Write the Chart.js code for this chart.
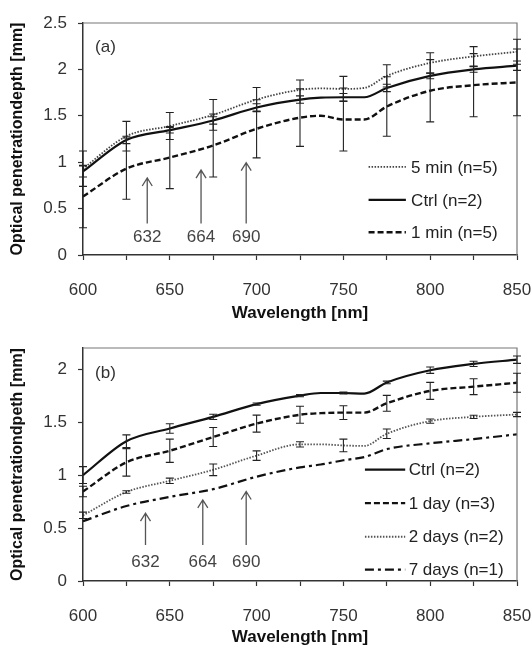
<!DOCTYPE html>
<html>
<head>
<meta charset="utf-8">
<script src="https://cdn.jsdelivr.net/npm/chart.js@4.4.1/dist/chart.umd.min.js"></script>
<style>
  html, body { margin: 0; padding: 0; background: #fff; }
  canvas { display: block; }
</style>
</head>
<body>
<canvas id="chartA" width="532" height="324"></canvas>
<canvas id="chartB" width="532" height="324"></canvas>
<script>
// wavelengths (nm) of the read points; error bars only every 25 nm
const wavelengths = [600, 625, 650, 675, 700, 725, 737, 750, 762, 775, 800, 825, 850];
const xTicks = [600, 650, 700, 750, 800, 850];

// panel (a)
const min5A  = [0.93, 1.28, 1.39, 1.51, 1.675, 1.78, 1.795, 1.79, 1.80, 1.93, 2.07, 2.14, 2.19];
const ctrlA  = [0.90, 1.24, 1.345, 1.45, 1.59, 1.675, 1.695, 1.70, 1.70, 1.80, 1.93, 2.00, 2.04];
const min1A  = [0.63, 0.93, 1.05, 1.18, 1.36, 1.48, 1.50, 1.46, 1.46, 1.60, 1.77, 1.83, 1.86];
const min5ErrA = [0.19, 0.16, 0.145, 0.165, 0.13, 0.105, null, 0.135, null, 0.12, 0.11, 0.105, 0.135];
const ctrlErrA = [0.06, 0.04, 0.03, 0.04, 0.04, 0.04, null, 0.04, null, 0.04, 0.03, 0.03, 0.05];
const min1ErrA = [0.336, 0.33, 0.335, 0.34, 0.313, 0.31, null, 0.34, null, 0.32, 0.335, 0.34, 0.36];

// panel (b)
const ctrlB = [1.00, 1.32, 1.44, 1.55, 1.67, 1.75, 1.775, 1.775, 1.77, 1.875, 1.99, 2.05, 2.09];
const day1B = [0.845, 1.12, 1.23, 1.36, 1.486, 1.57, 1.585, 1.59, 1.59, 1.678, 1.795, 1.835, 1.872];
const day2B = [0.62, 0.84, 0.946, 1.05, 1.184, 1.29, 1.29, 1.28, 1.275, 1.39, 1.51, 1.55, 1.572];
const day7B = [0.565, 0.708, 0.794, 0.867, 0.985, 1.073, 1.10, 1.14, 1.17, 1.245, 1.30, 1.34, 1.385];
const ctrlErrB = [0.08, 0.06, 0.045, 0.025, 0.01, 0.01, null, 0.01, null, 0.012, 0.03, 0.025, 0.035];
const day1ErrB = [0.05, 0.13, 0.11, 0.09, 0.08, 0.08, null, 0.065, null, 0.075, 0.08, 0.075, 0.09];
const day2ErrB = [0.03, 0.012, 0.025, 0.055, 0.045, 0.025, null, 0.06, null, 0.045, 0.02, 0.015, 0.02];

// marked wavelengths (arrows)
const arrowLabels = ['632', '664', '690'];
const arrowXA = [637, 668, 694];
const arrowTipA = [0.83, 0.915, 0.995];
const arrowXB = [636, 669, 694];
const arrowTipB = [0.64, 0.766, 0.845];

const FONT = "'Liberation Sans', Arial, sans-serif";

const toXY = (vals) => wavelengths.map((w, i) => ({ x: w, y: vals[i] }));

function series(label, vals, errs, style) {
  return Object.assign({
    label: label,
    data: toXY(vals),
    errors: errs,
    borderColor: '#111',
    borderWidth: 2,
    pointRadius: 0,
    fill: false,
    cubicInterpolationMode: 'monotone'
  }, style);
}

const solid = { borderDash: [], borderWidth: 2.2, borderColor: '#111' };
const dashed = { borderDash: [6, 3], borderWidth: 2.4, borderColor: '#111' };
const dotted = { borderDash: [1.5, 1.5], borderWidth: 1.8, borderColor: '#444' };
const dashDot = { borderDash: [9, 4, 3, 4], borderWidth: 2.2, borderColor: '#111' };

// error bars, arrows, frame, in-plot legend and panel letter
function extras(cfg) {
  return {
    id: 'extras',
    afterDatasetsDraw(chart) {
      const { ctx, chartArea: a, scales: { x, y } } = chart;
      ctx.save();
      // frame
      ctx.strokeStyle = '#777';
      ctx.lineWidth = 1.2;
      ctx.beginPath();
      ctx.moveTo(a.left, a.top);
      ctx.lineTo(a.right, a.top);
      ctx.lineTo(a.right, a.bottom);
      ctx.stroke();

      // error bars
      ctx.strokeStyle = '#222';
      ctx.lineWidth = 1.1;
      ctx.setLineDash([]);
      chart.data.datasets.forEach(ds => {
        if (!ds.errors) return;
        ds.data.forEach((p, i) => {
          const e = ds.errors[i];
          if (e == null) return;
          const px = x.getPixelForValue(p.x);
          const y1 = y.getPixelForValue(p.y + e);
          const y2 = y.getPixelForValue(p.y - e);
          ctx.beginPath();
          ctx.moveTo(px, y1); ctx.lineTo(px, y2);
          ctx.moveTo(px - 4, y1); ctx.lineTo(px + 4, y1);
          ctx.moveTo(px - 4, y2); ctx.lineTo(px + 4, y2);
          ctx.stroke();
        });
      });

      // arrows
      ctx.strokeStyle = '#555';
      ctx.fillStyle = '#444';
      ctx.lineWidth = 1.3;
      ctx.font = '17px ' + FONT;
      ctx.textAlign = 'center';
      ctx.textBaseline = 'middle';
      cfg.arrowX.forEach((ax, i) => {
        const px = x.getPixelForValue(ax);
        const yb = y.getPixelForValue(cfg.arrowBase);
        const yt = y.getPixelForValue(cfg.arrowTip[i]);
        ctx.beginPath();
        ctx.moveTo(px, yb); ctx.lineTo(px, yt);
        ctx.moveTo(px - 5, yt + 8); ctx.lineTo(px, yt); ctx.lineTo(px + 5, yt + 8);
        ctx.stroke();
        ctx.fillText(arrowLabels[i], px, y.getPixelForValue(cfg.arrowTextY));
      });

      // panel letter
      ctx.fillStyle = '#333';
      ctx.textAlign = 'left';
      ctx.fillText(cfg.letter, x.getPixelForValue(cfg.letterPos[0]) - 10, y.getPixelForValue(cfg.letterPos[1]));

      // legend
      cfg.legendOrder.forEach((di, k) => {
        const ds = chart.data.datasets[di];
        const ly = y.getPixelForValue(cfg.legendY[k]);
        ctx.strokeStyle = ds.borderColor;
        ctx.lineWidth = ds.borderWidth;
        ctx.setLineDash(ds.borderDash);
        ctx.beginPath();
        ctx.moveTo(x.getPixelForValue(cfg.legendLine[0]), ly);
        ctx.lineTo(x.getPixelForValue(cfg.legendLine[1]), ly);
        ctx.stroke();
        ctx.setLineDash([]);
        ctx.fillStyle = '#222';
        ctx.fillText(ds.label, x.getPixelForValue(cfg.legendText), ly + 1);
      });
      ctx.restore();
    }
  };
}

function makeChart(id, datasets, cfg) {
  return new Chart(document.getElementById(id), {
    type: 'line',
    data: { datasets: datasets },
    options: {
      responsive: false,
      animation: false,
      layout: { padding: { top: cfg.top, right: 15, left: 0, bottom: 0 } },
      plugins: { legend: { display: false }, tooltip: { enabled: false } },
      scales: {
        x: {
          type: 'linear',
          min: 600,
          max: 850,
          afterFit: (s) => {
            s.height = cfg.xHeight;
            // tick padding should not eat horizontal room
            s.paddingRight = 15;
            s.paddingLeft = 0;
          },
          ticks: {
            stepSize: 25,
            autoSkip: false,
            maxRotation: 0,
            padding: 20,
            color: '#333',
            font: { family: FONT, size: 17 },
            callback: (v) => (xTicks.includes(v) ? String(v) : '')
          },
          grid: { drawOnChartArea: false, tickLength: 5, color: '#333', tickWidth: 1.2 },
          border: { color: '#333', width: 1.5 },
          title: {
            display: true,
            text: 'Wavelength [nm]',
            color: '#111',
            font: { family: FONT, size: 17, weight: 'bold' },
            padding: { top: 0, bottom: 0 }
          }
        },
        y: {
          min: 0,
          max: cfg.yMax,
          afterFit: (s) => { s.width = 83; },
          afterBuildTicks: (s) => {
            s.ticks = s.ticks.filter(t => Math.abs(t.value * 2 - Math.round(t.value * 2)) < 1e-9);
          },
          ticks: {
            stepSize: 0.5,
            padding: 11,
            color: '#333',
            font: { family: FONT, size: 17 },
            callback: (v) => String(Number(v.toFixed(1)))
          },
          grid: { drawOnChartArea: false, tickLength: 5, color: '#333', tickWidth: 1.2 },
          border: { color: '#333', width: 1.5 },
          title: {
            display: true,
            text: cfg.yTitle,
            color: '#111',
            font: { family: FONT, size: 16, weight: 'bold' },
            padding: { top: 8, bottom: 0 }
          }
        }
      }
    },
    plugins: [extras(cfg)]
  });
}

makeChart('chartA', [
  series('5 min (n=5)', min5A, min5ErrA, dotted),
  series('Ctrl (n=2)', ctrlA, ctrlErrA, solid),
  series('1 min (n=5)', min1A, min1ErrA, dashed)
], {
  top: 23, xHeight: 69, yMax: 2.5,
  yTitle: 'Optical penetrationdepth [mm]',
  arrowX: arrowXA, arrowTip: arrowTipA, arrowBase: 0.34, arrowTextY: 0.19,
  letter: '(a)', letterPos: [612.7, 2.236],
  legendOrder: [0, 1, 2], legendY: [0.95, 0.593, 0.245],
  legendLine: [764.5, 786], legendText: 789
});

makeChart('chartB', [
  series('Ctrl (n=2)', ctrlB, ctrlErrB, solid),
  series('1 day (n=3)', day1B, day1ErrB, dashed),
  series('2 days (n=2)', day2B, day2ErrB, Object.assign({}, dotted, { borderColor: '#555' })),
  series('7 days (n=1)', day7B, null, dashDot)
], {
  top: 24, xHeight: 67, yMax: 2.2,
  yTitle: 'Optical penetrationdpeth [mm]',
  arrowX: arrowXB, arrowTip: arrowTipB, arrowBase: 0.339, arrowTextY: 0.18,
  letter: '(b)', letterPos: [612.7, 1.96],
  legendOrder: [0, 1, 2, 3], legendY: [1.051, 0.735, 0.418, 0.108],
  legendLine: [762.4, 785.6], legendText: 787.6
});
</script>
</body>
</html>
